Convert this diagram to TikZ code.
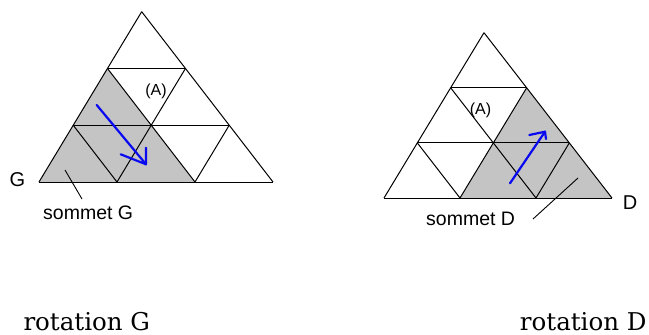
\documentclass[tikz,border=0pt]{standalone}
\usepackage{fontspec}
\setmainfont{DejaVu Serif}
\newfontfamily\arialf{Liberation Sans}
\definecolor{shadegray}{RGB}{196,196,196}
\definecolor{arrowblue}{RGB}{10,10,240}
\begin{document}
\begin{tikzpicture}[x=1pt,y=-1pt,
  gridline/.style={line width=1pt, black, line join=round},
  shadefill/.style={fill=shadegray, draw=none},
  bluearrow/.style={arrowblue, line width=2.2pt, line cap=round, line join=round},
  leader/.style={line width=0.9pt, black},
  biglbl/.style={font=\arialf\fontsize{20}{24}\selectfont, inner sep=0pt},
  smalllbl/.style={font=\arialf\fontsize{19.5}{22}\selectfont, inner sep=0pt},
  alabel/.style={font=\arialf\fontsize{16}{18}\selectfont, inner sep=0pt},
  caption/.style={font=\fontsize{24.5}{28}\selectfont, inner sep=0pt},
]
\useasboundingbox (0,0) rectangle (649,335);

% ---------- left triangle (rotation G) ----------
\begin{scope}[shift={(39,182)}, x={(78pt,0pt)}, y={(34.23pt,56.77pt)}]
  \fill[shadefill] (0,0) -- (2,0) -- (0,2) -- cycle;
  \foreach \k in {0,1,2,3}{
    \pgfmathtruncatemacro{\r}{3-\k}
    \draw[gridline] (0,\k) -- (\r,\k);
    \draw[gridline] (\k,0) -- (\k,\r);
    \draw[gridline] (\k,0) -- (0,\k);
  }
\end{scope}

% ---------- right triangle (rotation D) ----------
\begin{scope}[shift={(384,198)}, x={(76pt,0pt)}, y={(33.33pt,55.1pt)}]
  \fill[shadefill] (1,0) -- (3,0) -- (1,2) -- cycle;
  \foreach \k in {0,1,2,3}{
    \pgfmathtruncatemacro{\r}{3-\k}
    \draw[gridline] (0,\k) -- (\r,\k);
    \draw[gridline] (\k,0) -- (\k,\r);
    \draw[gridline] (\k,0) -- (0,\k);
  }
\end{scope}

% ---------- blue arrows ----------
\coordinate (lstart) at (96.7,105);
\coordinate (ltip) at (146,164.3);
\coordinate (lbarbA) at (120.7,154.3);
\coordinate (lbarbB) at (146,147.7);
\draw[bluearrow] (lstart) -- (ltip);
\draw[bluearrow] (lbarbA) -- (ltip) -- (lbarbB);

\coordinate (rstart) at (510,183.3);
\coordinate (rtip) at (545,131.7);
\coordinate (rbarbA) at (529.3,135);
\coordinate (rbarbB) at (546,139);
\draw[bluearrow] (rstart) -- (rtip);
\draw[bluearrow] (rbarbA) -- (rtip) -- (rbarbB);

% ---------- labels ----------
\node[alabel] (aL) at (156,91.5) {(A)};
\node[alabel] (aR) at (480.5,110) {(A)};

\node[biglbl] (G) at (17.5,179.5) {G};
\node[biglbl] (D) at (630,202.5) {D};

\node[smalllbl, anchor=base west] (sG) at (43,219) {sommet G};
\node[smalllbl, anchor=base west] (sD) at (426,225) {sommet D};

\coordinate (lgA) at (65,170);
\coordinate (lgB) at (82,199);
\draw[leader] (lgA) -- (lgB);
\coordinate (ldA) at (533,219);
\coordinate (ldB) at (578,178);
\draw[leader] (ldA) -- (ldB);

\node[caption, anchor=base west] (capG) at (23.3,330) {rotation G};
\node[caption, anchor=base east] (capD) at (646.7,330) {rotation D};
\end{tikzpicture}
\end{document}
